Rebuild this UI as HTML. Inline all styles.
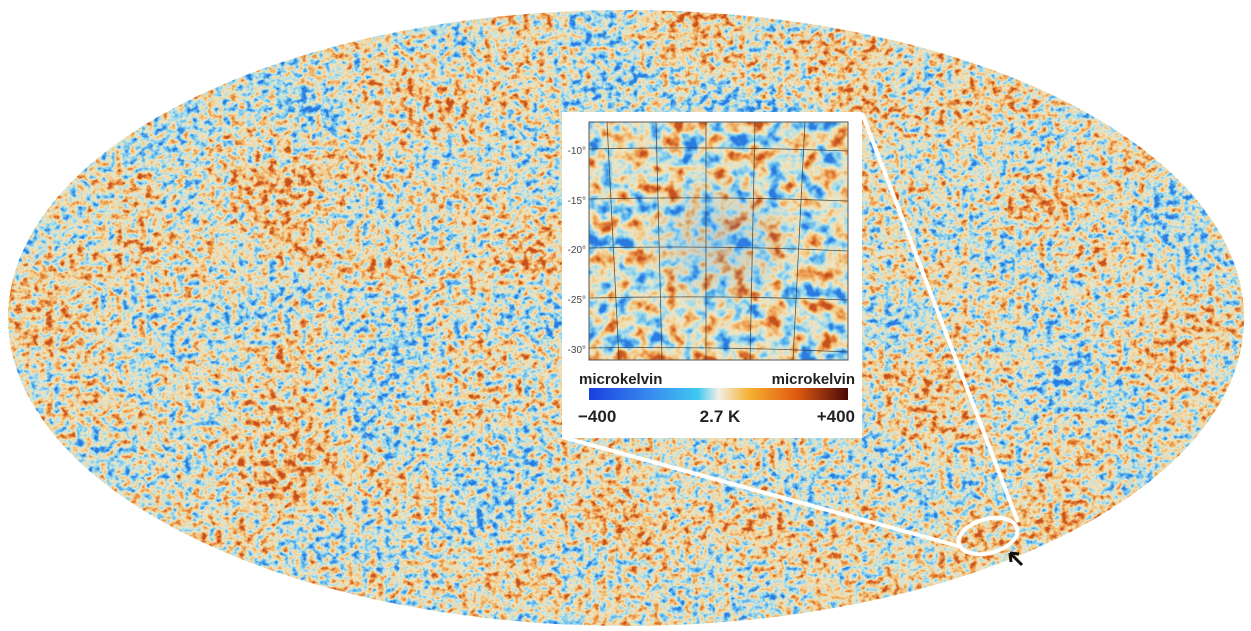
<!DOCTYPE html>
<html><head><meta charset="utf-8"><style>
html,body{margin:0;padding:0;background:#fff;width:1251px;height:631px;overflow:hidden}
svg{display:block}
text{font-family:"Liberation Sans",sans-serif}
</style></head><body>
<svg width="1251" height="631" viewBox="0 0 1251 631" xmlns="http://www.w3.org/2000/svg">
<defs>
<filter id="cmb" x="0" y="0" width="100%" height="100%" color-interpolation-filters="sRGB">
<feTurbulence type="fractalNoise" baseFrequency="0.13 0.15" numOctaves="3" seed="4" result="fine0"/>
<feColorMatrix in="fine0" type="matrix" values="1 0 0 0 0  1 0 0 0 0  1 0 0 0 0  0 0 0 0 1" result="fine"/>
<feTurbulence type="fractalNoise" baseFrequency="0.009 0.014" numOctaves="2" seed="21" result="coarse0"/>
<feColorMatrix in="coarse0" type="matrix" values="1 0 0 0 0  1 0 0 0 0  1 0 0 0 0  0 0 0 0 1" result="coarse"/>
<feComposite in="fine" in2="coarse" operator="arithmetic" k1="0" k2="0.8" k3="0.38" k4="-0.09"/>
<feComponentTransfer>
<feFuncR type="linear" slope="1.95" intercept="-0.475"/>
<feFuncG type="linear" slope="1.95" intercept="-0.475"/>
<feFuncB type="linear" slope="1.95" intercept="-0.475"/>
<feFuncA type="linear" slope="0" intercept="1"/>
</feComponentTransfer>
<feComponentTransfer>
<feFuncR type="table" tableValues="0.17 0.38 0.66 0.94 0.95 0.92 0.78"/>
<feFuncG type="table" tableValues="0.48 0.72 0.87 0.9 0.79 0.57 0.32"/>
<feFuncB type="table" tableValues="0.88 0.93 0.92 0.77 0.52 0.27 0.12"/>
</feComponentTransfer>
</filter>
<filter id="cmb2" x="0" y="0" width="100%" height="100%" color-interpolation-filters="sRGB">
<feTurbulence type="fractalNoise" baseFrequency="0.06" numOctaves="3" seed="11"/>
<feColorMatrix type="matrix" values="1 0 0 0 0  1 0 0 0 0  1 0 0 0 0  0 0 0 0 1"/>
<feComponentTransfer>
<feFuncR type="linear" slope="1.8" intercept="-0.42"/>
<feFuncG type="linear" slope="1.8" intercept="-0.42"/>
<feFuncB type="linear" slope="1.8" intercept="-0.42"/>
</feComponentTransfer>
<feComponentTransfer>
<feFuncR type="table" tableValues="0.17 0.38 0.66 0.94 0.95 0.92 0.78"/>
<feFuncG type="table" tableValues="0.48 0.72 0.87 0.9 0.79 0.57 0.32"/>
<feFuncB type="table" tableValues="0.88 0.93 0.92 0.77 0.52 0.27 0.12"/>
</feComponentTransfer>
</filter>
<clipPath id="ell"><ellipse cx="626" cy="318" rx="618" ry="308"/></clipPath>
<linearGradient id="cb" x1="0" x2="1">
<stop offset="0" stop-color="#1a3fe0"/>
<stop offset="0.25" stop-color="#3a8ff0"/>
<stop offset="0.42" stop-color="#40c8f0"/>
<stop offset="0.5" stop-color="#f2f0e6"/>
<stop offset="0.62" stop-color="#f5b030"/>
<stop offset="0.8" stop-color="#e05a10"/>
<stop offset="1" stop-color="#4a0a08"/>
</linearGradient>
<radialGradient id="blueish" cx="0.5" cy="0.5" r="0.3">
<stop offset="0" stop-color="#3a8ae8" stop-opacity="0.25"/>
<stop offset="1" stop-color="#3a8ae8" stop-opacity="0"/>
</radialGradient>
</defs>
<g clip-path="url(#ell)">
<rect x="0" y="0" width="1251" height="631" filter="url(#cmb)"/>
</g>
<line x1="862" y1="113" x2="1018" y2="522" stroke="#fff" stroke-width="4"/>
<line x1="562" y1="437" x2="962" y2="547" stroke="#fff" stroke-width="4"/>
<ellipse cx="988" cy="536" rx="30" ry="17" transform="rotate(-15 988 536)" fill="none" stroke="#fff" stroke-width="4"/>
<path d="M1022 565 L1010 553 M1010 553 L1011 562 M1010 553 L1019 554" stroke="#111" stroke-width="3" fill="none"/>
<rect x="562" y="112" width="300" height="326" fill="#fff"/>
<rect x="589" y="122" width="259" height="238" filter="url(#cmb2)"/>
<rect x="589" y="122" width="259" height="238" fill="url(#blueish)"/>
<g stroke="#333" stroke-width="0.8" fill="none" opacity="0.8">
<path d="M589 149 Q718 146 848 151"/>
<path d="M589 199 Q718 196 848 201"/>
<path d="M589 248 Q718 245 848 251"/>
<path d="M589 298 Q718 295 848 300"/>
<path d="M589 348 Q718 346 848 352"/>
<path d="M607 122 L619 360"/>
<path d="M656 122 L662 360"/>
<path d="M706 122 L706 360"/>
<path d="M755 122 L750 360"/>
<path d="M805 122 L793 360"/>
</g>
<rect x="589" y="122" width="259" height="238" fill="none" stroke="#555" stroke-width="1"/>
<g font-size="10" fill="#444" text-anchor="end">
<text x="586" y="154">-10°</text>
<text x="586" y="204">-15°</text>
<text x="586" y="253">-20°</text>
<text x="586" y="303">-25°</text>
<text x="586" y="353">-30°</text>
</g>
<text x="579" y="384" font-size="15" font-weight="bold" fill="#222">microkelvin</text>
<text x="855" y="384" font-size="15" font-weight="bold" fill="#222" text-anchor="end">microkelvin</text>
<rect x="589" y="388" width="259" height="12" fill="url(#cb)"/>
<text x="578" y="422" font-size="17" font-weight="bold" fill="#222">−400</text>
<text x="720" y="422" font-size="17" font-weight="bold" fill="#222" text-anchor="middle">2.7 K</text>
<text x="855" y="422" font-size="17" font-weight="bold" fill="#222" text-anchor="end">+400</text>
</svg>
</body></html>
